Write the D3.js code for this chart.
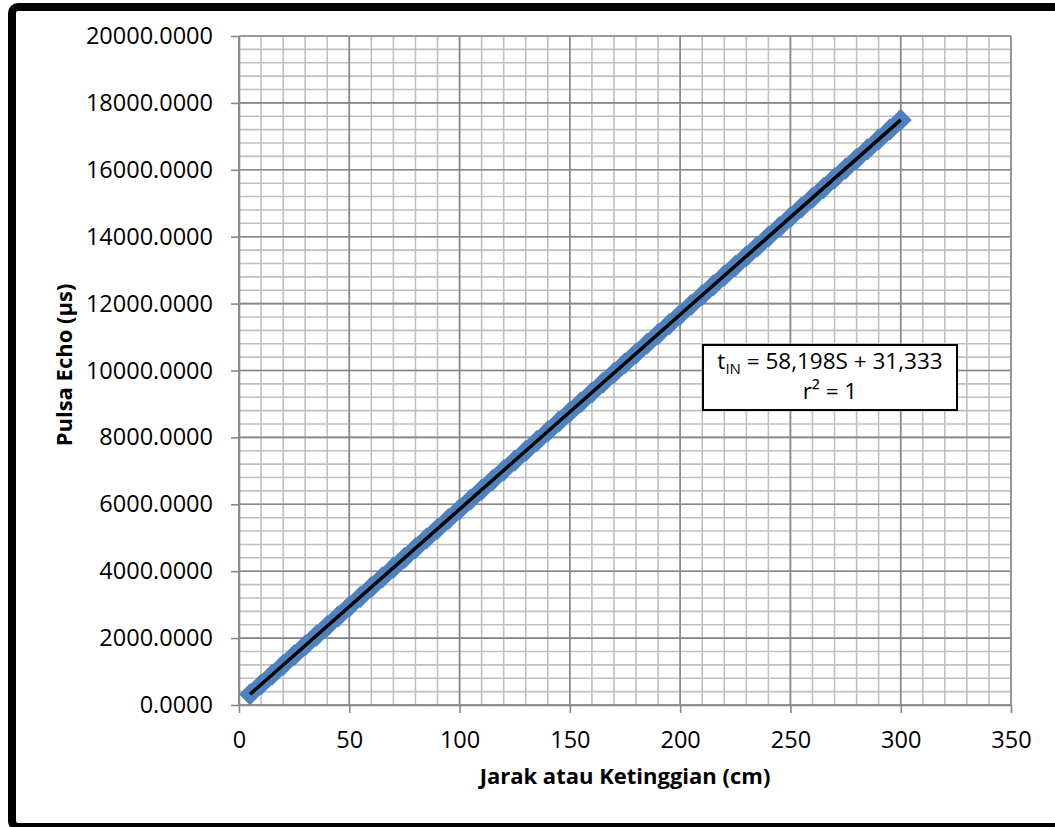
<!DOCTYPE html>
<html>
<head>
<meta charset="utf-8">
<script src="https://cdn.jsdelivr.net/npm/d3@7"></script>
<style>
  body { margin: 0; background: #fff; }
  svg { display: block; font-family: "Open Sans", sans-serif; }
</style>
</head>
<body>
<div id="chart"></div>
<script>
// data: distance (cm) vs echo pulse (µs)
const distance = [5, 10, 15, 20, 25, 30, 35, 40, 45, 50, 55, 60, 65, 70, 75, 80, 85, 90, 95, 100,
    105, 110, 115, 120, 125, 130, 135, 140, 145, 150, 155, 160, 165, 170, 175, 180, 185, 190, 195, 200,
    205, 210, 215, 220, 225, 230, 235, 240, 245, 250, 255, 260, 265, 270, 275, 280, 285, 290, 295, 300];
const echo = [322, 613, 904, 1195, 1486, 1777, 2068, 2359, 2650, 2941, 3232, 3523, 3814, 4105, 4396, 4687, 4978, 5269, 5560, 5851,
    6142, 6433, 6724, 7015, 7306, 7597, 7888, 8179, 8470, 8761, 9052, 9343, 9634, 9925, 10216, 10507, 10798, 11089, 11380, 11671,
    11962, 12253, 12544, 12835, 13126, 13417, 13708, 13999, 14290, 14581, 14872, 15163, 15454, 15745, 16036, 16327, 16618, 16909, 17200, 17491];

const xTicks = [0, 50, 100, 150, 200, 250, 300, 350];
const yTicks = [0, 2000, 4000, 6000, 8000, 10000, 12000, 14000, 16000, 18000, 20000];
const xMinorStep = 10;
const yMinorStep = 400;

// linear trendline shown on the chart
const trendSlope = 58.198;
const trendIntercept = 31.333;

const width = 1055, height = 827;
const plotLeft = 239, plotRight = 1011, plotTop = 36, plotBottom = 705;

const svg = d3.select("#chart")
    .append("svg")
    .attr("width", width)
    .attr("height", height);

const x = d3.scaleLinear().domain([0, 350]).range([plotLeft, plotRight]);
const y = d3.scaleLinear().domain([0, 20000]).range([plotBottom, plotTop]);

// outer frame
svg.append("rect")
    .attr("x", 12).attr("y", 7)
    .attr("width", 1100).attr("height", 820)
    .attr("rx", 6)
    .attr("fill", "#fff")
    .attr("stroke", "#000")
    .attr("stroke-width", 8);

// minor grid
const grid = svg.append("g");
grid.selectAll(".xminor")
    .data(d3.range(0, 351, xMinorStep))
    .enter().append("line")
    .attr("x1", d => x(d)).attr("x2", d => x(d))
    .attr("y1", plotTop).attr("y2", plotBottom)
    .attr("stroke", "#c0c0c0")
    .attr("stroke-width", 1.6);
grid.selectAll(".yminor")
    .data(d3.range(0, 20001, yMinorStep))
    .enter().append("line")
    .attr("x1", plotLeft).attr("x2", plotRight)
    .attr("y1", d => y(d)).attr("y2", d => y(d))
    .attr("stroke", "#c0c0c0")
    .attr("stroke-width", 1.6);

// major grid
grid.selectAll(".xmajor")
    .data(xTicks)
    .enter().append("line")
    .attr("x1", d => x(d)).attr("x2", d => x(d))
    .attr("y1", plotTop).attr("y2", plotBottom)
    .attr("stroke", "#888")
    .attr("stroke-width", 1.6);
grid.selectAll(".ymajor")
    .data(yTicks)
    .enter().append("line")
    .attr("x1", plotLeft).attr("x2", plotRight)
    .attr("y1", d => y(d)).attr("y2", d => y(d))
    .attr("stroke", "#888")
    .attr("stroke-width", 1.6);

// axes
const xAxis = svg.append("g")
    .attr("transform", `translate(0,${plotBottom})`)
    .call(d3.axisBottom(x).tickValues(xTicks).tickSize(8).tickPadding(18).tickSizeOuter(0));
const yAxis = svg.append("g")
    .attr("transform", `translate(${plotLeft},0)`)
    .call(d3.axisLeft(y).tickValues(yTicks).tickFormat(d3.format(".4f")).tickSize(8).tickPadding(18).tickSizeOuter(0));

[xAxis, yAxis].forEach(a => {
    a.select(".domain").attr("stroke", "#888").attr("stroke-width", 1.6);
    a.selectAll(".tick line").attr("stroke", "#888").attr("stroke-width", 1.6);
    a.selectAll(".tick text")
        .attr("fill", "#000")
        .style("font-size", "23.5px")
        .style("font-family", "'Open Sans', sans-serif");
});

// markers
svg.append("g")
    .selectAll("path")
    .data(distance)
    .enter().append("path")
    .attr("d", d3.symbol(d3.symbolSquare, 160))
    .attr("transform", (d, i) => `translate(${x(d)},${y(echo[i])}) rotate(45)`)
    .attr("fill", "#4f81bd")
    .attr("stroke", "#4f81bd")
    .attr("stroke-width", 3);

// trendline
const xr = d3.extent(distance);
svg.append("line")
    .attr("x1", x(xr[0])).attr("y1", y(trendSlope * xr[0] + trendIntercept))
    .attr("x2", x(xr[1])).attr("y2", y(trendSlope * xr[1] + trendIntercept))
    .attr("stroke", "#000")
    .attr("stroke-width", 3.5);

// equation box
svg.append("rect")
    .attr("x", 703).attr("y", 345)
    .attr("width", 254).attr("height", 65)
    .attr("fill", "#fff")
    .attr("stroke", "#000")
    .attr("stroke-width", 2);

const eq = svg.append("text")
    .attr("x", 830).attr("y", 369)
    .attr("text-anchor", "middle")
    .style("font-size", "22.5px");
eq.append("tspan").text("t");
eq.append("tspan").attr("dy", 5).style("font-size", "15px").text("IN");
eq.append("tspan").attr("dy", -5).text(" = 58,198S + 31,333");

svg.append("text")
    .attr("x", 830).attr("y", 399)
    .attr("text-anchor", "middle")
    .style("font-size", "22.5px")
    .text("r² = 1");

// axis titles
svg.append("text")
    .attr("x", (plotLeft + plotRight) / 2)
    .attr("y", 784)
    .attr("text-anchor", "middle")
    .style("font-size", "22px")
    .style("font-weight", "bold")
    .text("Jarak atau Ketinggian (cm)");

svg.append("text")
    .attr("transform", `translate(72,365) rotate(-90)`)
    .attr("text-anchor", "middle")
    .style("font-size", "22px")
    .style("font-weight", "bold")
    .text("Pulsa Echo (µs)");
</script>
</body>
</html>
